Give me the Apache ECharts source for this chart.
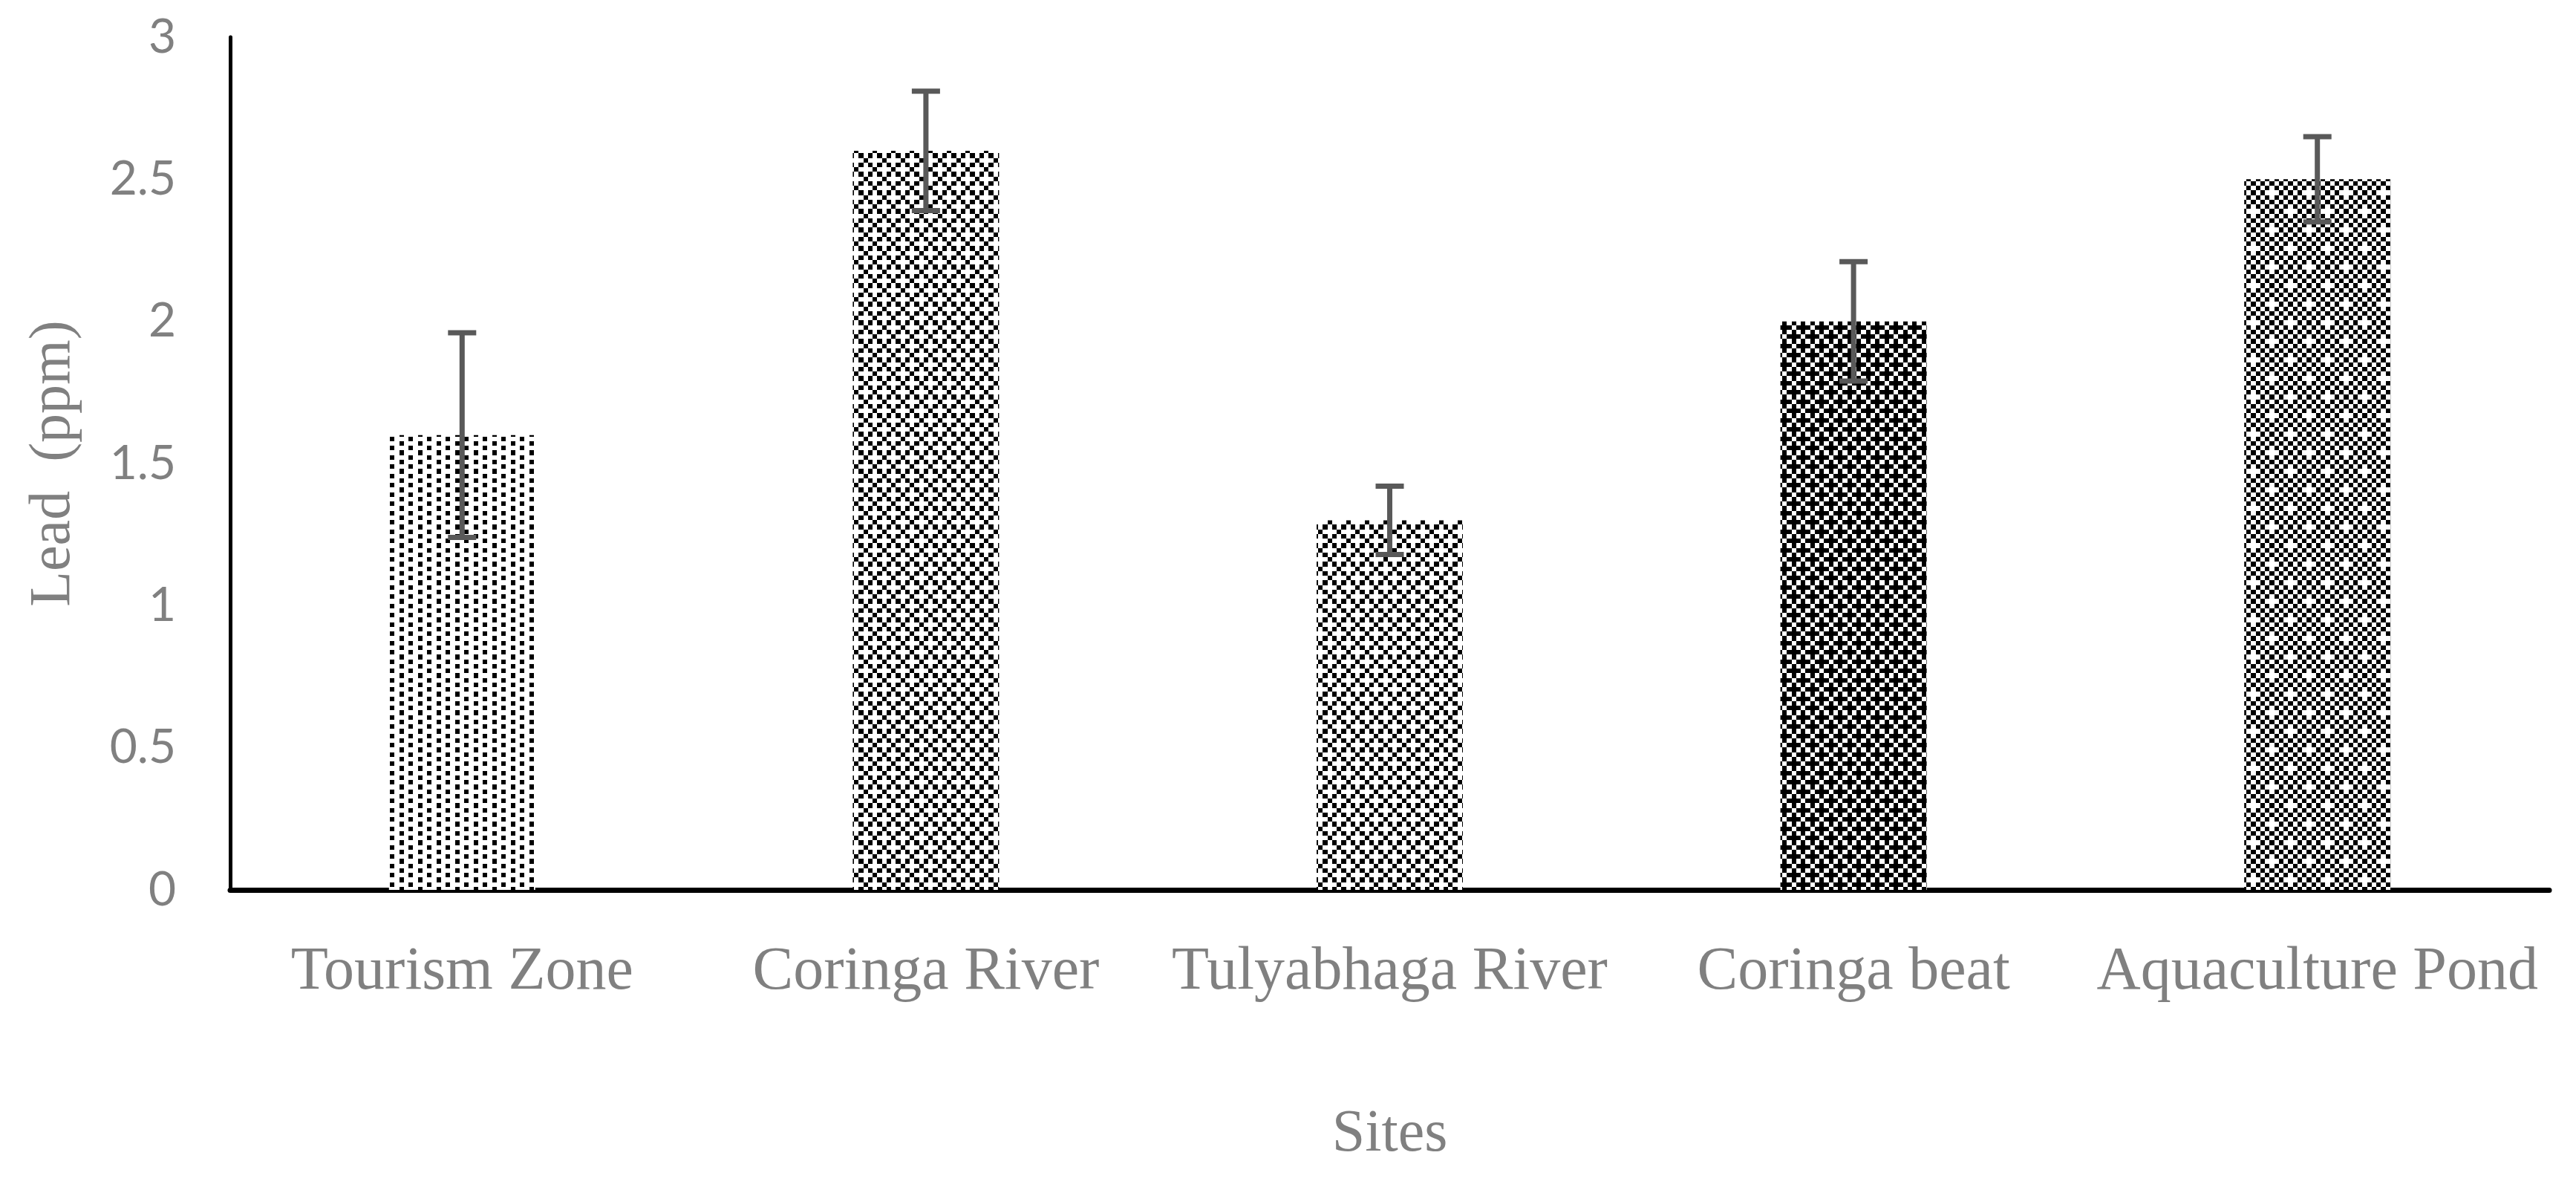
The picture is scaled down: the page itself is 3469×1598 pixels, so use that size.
<!DOCTYPE html>
<html>
<head>
<meta charset="utf-8">
<script src="https://cdn.jsdelivr.net/npm/echarts@6/dist/echarts.min.js"></script>
<style>
html,body{margin:0;padding:0;background:#fff;}
#chart{width:3469px;height:1598px;}
</style>
</head>
<body>
<div id="chart"></div>
<script>
const categories = ['Tourism Zone', 'Coringa River', 'Tulyabhaga River', 'Coringa beat', 'Aquaculture Pond'];
const values = [1.6, 2.6, 1.3, 2.0, 2.5];
const errors = [0.36, 0.21, 0.12, 0.21, 0.15];
const yTicks = { min: 0, max: 3, interval: 0.5 };

// pattern bitmaps (style only)
const patterns = [
  ['X...', '..X.', 'X...', '..X.'],
  ['X...', '.X.X', '..X.', '.X.X'],
  ['..X.', '.X.X', 'X...', '.X.X'],
  ['.XXX', 'X.X.', 'XX.X', 'X.X.'],
  ['X.X.X.X.', '...X.X.X', 'X.X.X.X.', '.X.X.X.X', 'X.X.X.X.', '.X.X...X', 'X.X.X.X.', '.X.X.X.X']
];
function makeTile(rows, unit) {
  const h = rows.length, w = rows[0].length;
  const c = document.createElement('canvas');
  c.width = Math.round(w * unit);
  c.height = Math.round(h * unit);
  const ctx = c.getContext('2d');
  ctx.fillStyle = '#ffffff';
  ctx.fillRect(0, 0, c.width, c.height);
  ctx.fillStyle = '#000000';
  for (let y = 0; y < h; y++) {
    for (let x = 0; x < w; x++) {
      if (rows[y][x] === 'X') {
        const x0 = Math.round(x * unit), x1 = Math.round((x + 1) * unit);
        const y0 = Math.round(y * unit), y1 = Math.round((y + 1) * unit);
        ctx.fillRect(x0, y0, x1 - x0, y1 - y0);
      }
    }
  }
  return c;
}
const tiles = patterns.map(p => makeTile(p, 6.25));

const chart = echarts.init(document.getElementById('chart'), null, { renderer: 'canvas' });
const serif = 'Liberation Serif';
const gray = '#808080';

chart.setOption({
  animation: false,
  backgroundColor: '#ffffff',
  grid: { left: 310, right: 36, top: 50, bottom: 400, containLabel: false, outerBoundsMode: 'none' },
  xAxis: {
    type: 'category',
    data: categories,
    name: 'Sites',
    nameLocation: 'middle',
    nameGap: 290,
    nameTextStyle: { fontFamily: serif, fontSize: 80, color: gray },
    axisLine: { show: true, lineStyle: { color: '#000000', width: 7 } },
    axisTick: { show: false },
    axisLabel: { fontFamily: serif, fontSize: 82, color: gray, margin: 70, interval: 0 },
    splitLine: { show: false }
  },
  yAxis: {
    type: 'value',
    min: yTicks.min,
    max: yTicks.max,
    interval: yTicks.interval,
    name: 'Lead  (ppm)',
    nameLocation: 'middle',
    nameRotate: 90,
    nameGap: 198,
    nameTextStyle: { fontFamily: serif, fontSize: 78, color: gray },
    axisLine: { show: true, lineStyle: { color: '#000000', width: 5 } },
    axisTick: { show: false },
    axisLabel: { fontFamily: 'Lato', fontSize: 64, color: gray, margin: 73 },
    splitLine: { show: false }
  },
  series: [
    {
      type: 'bar',
      barWidth: 197,
      data: values.map((v, i) => ({
        value: v,
        itemStyle: { color: { image: tiles[i], repeat: 'repeat' } }
      })),
      z: 2
    },
    {
      type: 'custom',
      z: 10,
      data: values.map((v, i) => [i, v - errors[i], v + errors[i]]),
      encode: { x: 0, y: [1, 2] },
      renderItem: function (params, api) {
        const xi = api.value(0);
        const lo = api.coord([xi, api.value(1)]);
        const hi = api.coord([xi, api.value(2)]);
        const hw = 19;
        const st = { stroke: '#595959', lineWidth: 7 };
        return {
          type: 'group',
          children: [
            { type: 'line', shape: { x1: hi[0], y1: hi[1], x2: lo[0], y2: lo[1] }, style: st },
            { type: 'line', shape: { x1: hi[0] - hw, y1: hi[1], x2: hi[0] + hw, y2: hi[1] }, style: st },
            { type: 'line', shape: { x1: lo[0] - hw, y1: lo[1], x2: lo[0] + hw, y2: lo[1] }, style: st }
          ]
        };
      }
    }
  ]
});
</script>
</body>
</html>
